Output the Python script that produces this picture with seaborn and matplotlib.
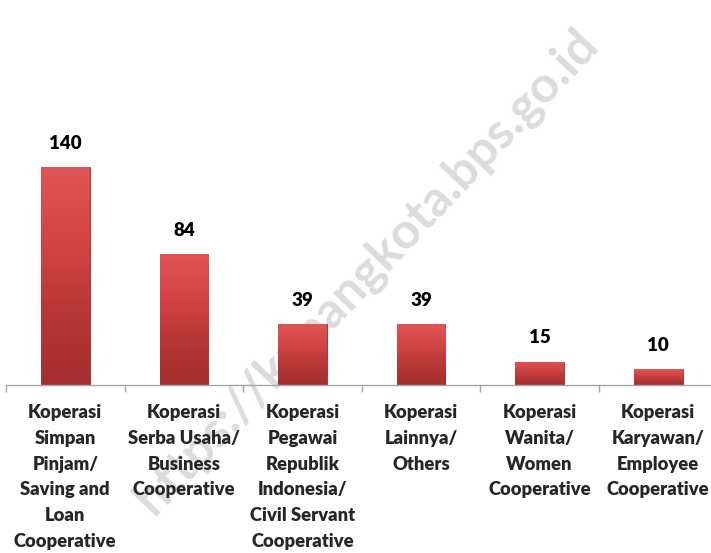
import numpy as np
import pandas as pd
import matplotlib.pyplot as plt
import matplotlib as mpl
import seaborn as sns
from matplotlib.colors import LinearSegmentedColormap
from matplotlib.ticker import FixedLocator

categories = [
    'Koperasi\nSimpan\nPinjam/\nSaving and\nLoan\nCooperative',
    'Koperasi\nSerba Usaha/\nBusiness\nCooperative',
    'Koperasi\nPegawai\nRepublik\nIndonesia/\nCivil Servant\nCooperative',
    'Koperasi\nLainnya/\nOthers',
    'Koperasi\nWanita/\nWomen\nCooperative',
    'Koperasi\nKaryawan/\nEmployee\nCooperative',
]
counts = [140, 84, 39, 39, 15, 10]

df = pd.DataFrame({'jenis': categories, 'jumlah': counts})

sns.set_style('white')
plt.rcParams['font.family'] = ['Lato', 'DejaVu Sans']

fig = plt.figure(figsize=(7.11, 5.53), dpi=100)
ax = fig.add_axes([6 / 711, 1 - 385 / 553, 705 / 711, 385 / 553])

# watermark behind everything
fig.text(0.515, 0.51, 'https://kupangkota.bps.go.id', rotation=46.5,
         fontsize=36, fontweight='bold', color='#dcdcdc',
         ha='center', va='center', zorder=0)
ax.set_zorder(1)
ax.patch.set_alpha(0)

sns.barplot(data=df, x='jenis', y='jumlah', color='#cc3f3f', width=0.41,
            edgecolor='#9a2a2a', linewidth=0.6, ax=ax)

# red gradient inside the bars
cmap = LinearSegmentedColormap.from_list('red_bevel', ['#e05555', '#d44444', '#b83636', '#a52f2f'])
grad = np.linspace(0, 1, 256).reshape(-1, 1)
for p in ax.patches:
    x0, y0 = p.get_x(), p.get_y()
    w, h = p.get_width(), p.get_height()
    im = ax.imshow(grad, cmap=cmap, aspect='auto', extent=[x0, x0 + w, y0, y0 + h],
                   origin='upper', zorder=p.get_zorder() + 0.1)
    im.set_clip_path(p)

ax.bar_label(ax.containers[0], padding=11, fontsize=13.5, fontweight='heavy', color='black')

ax.set_xlim(-0.5, -0.5 + 705 / 118.6)
ax.set_ylim(0, 385 / 1.557)

for side in ['top', 'right', 'left']:
    ax.spines[side].set_visible(False)
ax.spines['bottom'].set_color('#a6a6a6')
ax.spines['bottom'].set_linewidth(1.0)

ax.set_yticks([])
ax.xaxis.set_minor_locator(FixedLocator(np.arange(-0.5, 6.0, 1.0)))
ax.tick_params(axis='x', which='major', length=0, pad=14)
ax.tick_params(axis='x', which='minor', length=5, color='#a6a6a6', width=1.0, direction='out', bottom=True)
for lbl in ax.get_xticklabels():
    lbl.set_fontsize(13.2)
    lbl.set_fontweight('heavy')
    lbl.set_linespacing(1.62)
    lbl.set_va('top')
    lbl.set_ha('center')
ax.set_xlabel('')
ax.set_ylabel('')

fig.savefig('out.png', dpi=100)
